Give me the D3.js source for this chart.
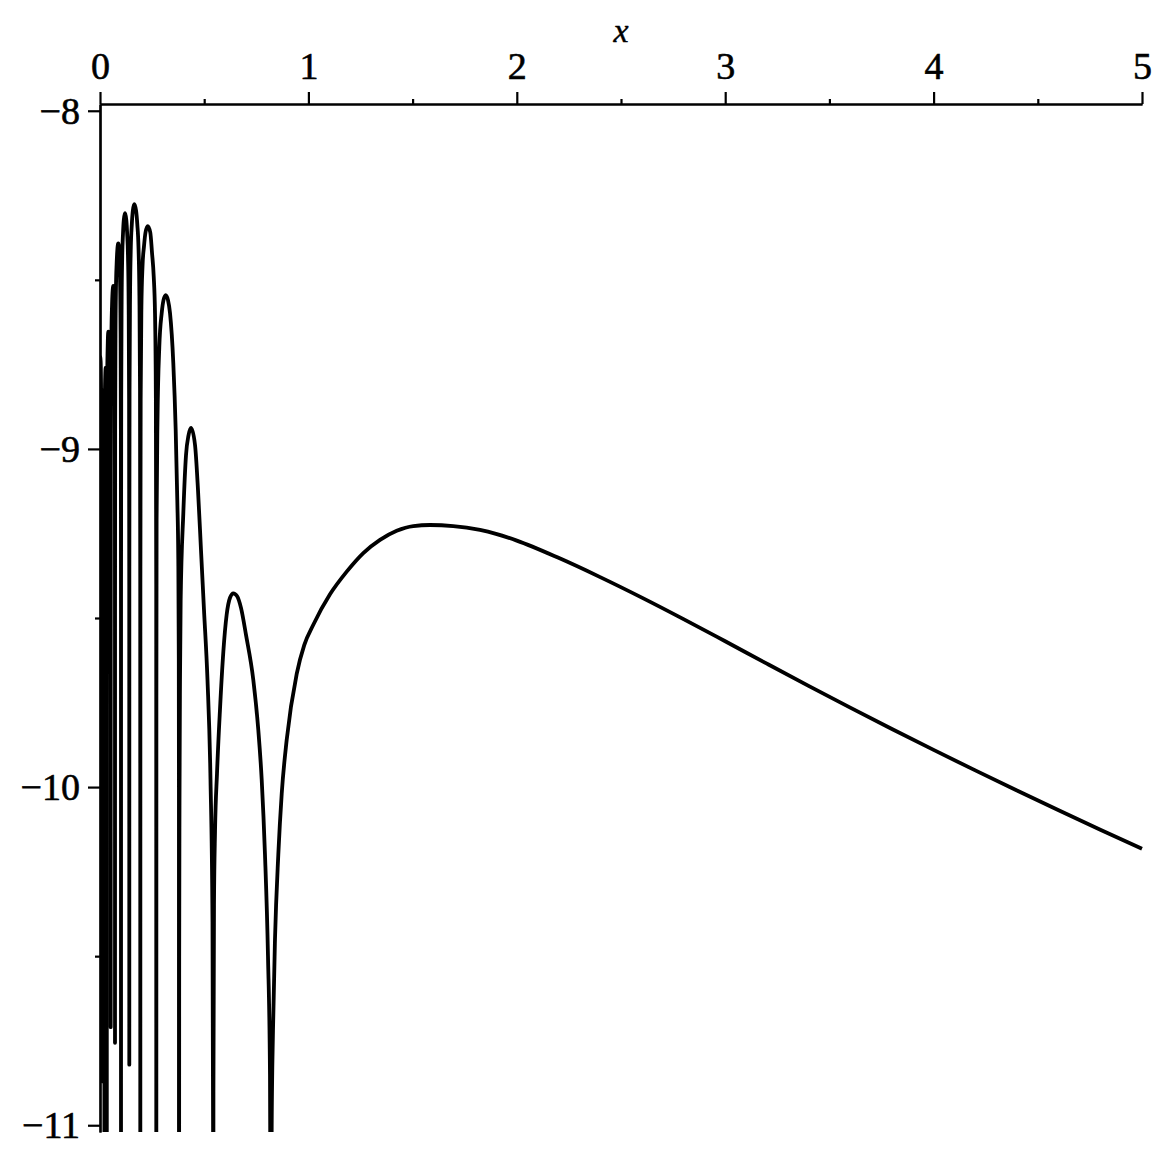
<!DOCTYPE html>
<html>
<head>
<meta charset="utf-8">
<script src="https://cdn.jsdelivr.net/npm/d3@7"></script>
<style>
  body { margin: 0; background: #fff; }
  svg { display: block; }
</style>
</head>
<body>
<div id="chart"></div>
<script>
const margin = {top: 104, right: 21, bottom: 31, left: 100},
	width = 1163 - margin.left - margin.right,
	height = 1163 - margin.top - margin.bottom;

// tick values
const xTicks = [0, 1, 2, 3, 4, 5];
const xMinorTicks = [0.5, 1.5, 2.5, 3.5, 4.5];
const yTicks = [-8, -9, -10, -11];
const yMinorTicks = [-8.5, -9.5, -10.5];

// curve (values below -11 are cut by the frame)
const curveX = [
	0, 0.003, 0.006, 0.0085, 0.0105,
	0.0125, 0.0145, 0.0168, 0.019, 0.0205, 0.0216,
	0.0226, 0.024, 0.0274, 0.030, 0.0318, 0.0326,
	0.0327, 0.0330, 0.0337, 0.0348, 0.0363, 0.0378, 0.0400, 0.0434, 0.0457, 0.0479, 0.0496, 0.0507, 0.0512, 0.0513,
	0.0514, 0.0519, 0.0532, 0.0551, 0.0576, 0.0601, 0.0638, 0.0663, 0.0679, 0.0695, 0.0708, 0.0716, 0.0719, 0.0720,
	0.0722, 0.0728, 0.0744, 0.0767, 0.0799, 0.0831, 0.0878, 0.0917, 0.0943, 0.0969, 0.0989, 0.1002, 0.1007, 0.1008,
	0.1010, 0.1018, 0.1037, 0.1066, 0.1104, 0.1142, 0.1200, 0.1262, 0.1303, 0.1344, 0.1375, 0.1396, 0.1404, 0.1406,
	0.1408, 0.1418, 0.1442, 0.1478, 0.1526, 0.1574, 0.1646, 0.1732, 0.1790, 0.1848, 0.1891, 0.1920, 0.1931, 0.1934,
	0.1938, 0.1952, 0.1987, 0.2040, 0.2112, 0.2183, 0.2289, 0.2413, 0.2496, 0.2578, 0.2640, 0.2681, 0.2698, 0.2702,
	0.2706, 0.2716, 0.2759, 0.2845, 0.2961, 0.3047, 0.3153, 0.3263, 0.3359, 0.3517, 0.3632, 0.3709, 0.3757, 0.3781, 0.3788, 0.3791,
	0.3800, 0.3815, 0.3839, 0.3870, 0.3998, 0.4127, 0.4247, 0.4367, 0.4559, 0.4702, 0.4846, 0.4990, 0.5158, 0.5302, 0.5398, 0.5430, 0.5437,
	0.5443, 0.5470, 0.5520, 0.5614, 0.5758, 0.5918, 0.6078, 0.6238, 0.6396, 0.6574, 0.6766, 0.7006, 0.7356, 0.7596, 0.7759, 0.7917, 0.8061, 0.8157, 0.8195, 0.8205,
	0.8215, 0.8239, 0.8301, 0.8397, 0.8556, 0.8719, 0.8959, 0.9439, 0.9800, 1.0235, 1.1036, 1.1838, 1.2634, 1.3436, 1.4237, 1.5035, 1.5835, 1.6950, 1.8234, 1.9,
	2.0, 2.2, 2.4, 2.6, 2.8, 3.0, 3.2, 3.4, 3.6, 3.8, 4.0, 4.2, 4.4, 4.6, 4.8, 5.0
];
const curveY = [
	-8.725, -8.74, -8.9, -9.3, -10.87,
	-9.3, -8.85, -8.826, -8.86, -9.3, -12,
	-9.3, -8.82, -8.76, -8.8, -9.3, -12,
	-9.753, -9.203, -8.923, -8.783, -8.713, -8.673, -8.653, -8.673, -8.713, -8.783, -8.923, -9.203, -9.753, -10.71,
	-9.618, -9.068, -8.788, -8.648, -8.578, -8.538, -8.518, -8.538, -8.578, -8.648, -8.788, -9.068, -9.618, -10.756,
	-9.492, -8.942, -8.662, -8.522, -8.452, -8.412, -8.392, -8.412, -8.452, -8.522, -8.662, -8.942, -9.492, -12,
	-9.403, -8.853, -8.573, -8.433, -8.363, -8.323, -8.303, -8.323, -8.363, -8.433, -8.573, -8.853, -9.403, -10.821,
	-9.376, -8.826, -8.546, -8.406, -8.336, -8.296, -8.276, -8.296, -8.336, -8.406, -8.546, -8.826, -9.376, -12,
	-9.4, -8.85, -8.58, -8.46, -8.40, -8.36, -8.341, -8.36, -8.42, -8.49, -8.60, -8.85, -9.4, -12,
	-9.74, -9.21, -8.914, -8.699, -8.598, -8.56, -8.545, -8.56, -8.598, -8.746, -8.944, -9.151, -9.328, -9.62, -10.0, -12,
	-10.5, -10.04, -9.683, -9.45, -9.19, -9.018, -8.96, -8.938, -8.988, -9.121, -9.299, -9.476, -9.683, -9.978, -10.4, -11.1, -12,
	-10.9, -10.35, -10.13, -9.96, -9.77, -9.60, -9.49, -9.44, -9.427, -9.435, -9.470, -9.550, -9.683, -9.831, -9.978, -10.2, -10.5, -10.85, -11.5, -12,
	-11.5, -11.0, -10.72, -10.45, -10.2, -10.02, -9.86, -9.665, -9.58, -9.52, -9.43, -9.363, -9.308, -9.269, -9.242, -9.228, -9.225, -9.228, -9.2396, -9.2511,
	-9.2711, -9.3221, -9.3791, -9.4397, -9.5033, -9.5689, -9.6351, -9.7007, -9.7651, -9.8283, -9.8901, -9.9507, -10.0101, -10.0685, -10.1259, -10.1825
];

const points = curveX.map((x, i) => ({x: x, y: curveY[i]}));

var svg = d3.select("#chart")
	.append("svg")
	.attr("width", width + margin.left + margin.right)
	.attr("height", height + margin.top + margin.bottom)
	.style("background", "#fff")
	.append("g")
	.attr("transform", "translate(" + margin.left + "," + margin.top + ")");

var xScale = d3.scaleLinear()
	.domain([0, 5])
	.range([0, width]);

var yScale = d3.scaleLinear()
	.domain([-7.98, -11.02])
	.range([0, height]);

const fmtY = (d) => "\u2212" + Math.abs(d);

// curve first, axes drawn on top
svg.append("clipPath")
	.attr("id", "plot-clip")
	.append("rect")
	.attr("x", 0)
	.attr("y", 0)
	.attr("width", width + 2)
	.attr("height", height);

var line = d3.line()
	.x((d) => xScale(d.x))
	.y((d) => yScale(d.y))
	.curve(d3.curveMonotoneX);

svg.append("path")
	.datum(points)
	.attr("clip-path", "url(#plot-clip)")
	.attr("fill", "none")
	.attr("stroke", "#000")
	.attr("stroke-width", 3.8)
	.attr("stroke-linejoin", "round")
	.attr("d", line);

// x axis along the top
svg.append("g")
	.attr("class", "axis")
	.call(d3.axisTop(xScale).tickValues(xMinorTicks).tickSize(5).tickSizeOuter(0).tickFormat(""));

svg.append("g")
	.attr("class", "axis")
	.call(d3.axisTop(xScale).tickValues(xTicks).tickSize(12).tickSizeOuter(0).tickPadding(13).tickFormat(d3.format("d")));

// y axis
svg.append("g")
	.attr("class", "axis")
	.call(d3.axisLeft(yScale).tickValues(yMinorTicks).tickSize(5).tickSizeOuter(0).tickFormat(""));

svg.append("g")
	.attr("class", "axis")
	.call(d3.axisLeft(yScale).tickValues(yTicks).tickSize(12).tickSizeOuter(0).tickPadding(8).tickFormat(fmtY));

svg.selectAll(".axis path, .axis line")
	.attr("stroke", "#000")
	.attr("stroke-width", 2.2);

svg.selectAll(".axis text")
	.attr("fill", "#000")
	.attr("stroke", "#000")
	.attr("stroke-width", 0.6)
	.attr("font-family", "Liberation Serif")
	.attr("font-size", 38)
	.attr("dy", (d) => (typeof d === "number" && yTicks.includes(d)) ? "0.33em" : "0em");

svg.append("text")
	.attr("x", xScale(2.5))
	.attr("y", -62)
	.attr("text-anchor", "middle")
	.attr("font-family", "Liberation Serif")
	.attr("font-style", "italic")
	.attr("font-size", 34)
	.attr("stroke", "#000")
	.attr("stroke-width", 0.4)
	.text("x");
</script>
</body>
</html>
